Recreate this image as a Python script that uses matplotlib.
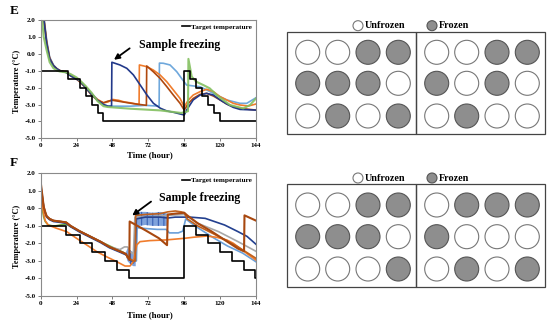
import matplotlib
matplotlib.use("Agg")
import matplotlib.pyplot as plt
from matplotlib.patches import Circle, Rectangle

plt.rcParams['font.family'] = ['Liberation Serif', 'DejaVu Serif']
plt.rcParams['font.weight'] = 'bold'
plt.rcParams['hatch.linewidth'] = 0.7

W, H = 550, 322

# ---------------- panel E data (hour, degC) ----------------
e_target_t = [0, 18, 26, 30, 34, 38, 42, 96, 100, 104, 108, 112, 116, 120, 144]
e_target_v = [-1, -1.5, -2, -2.5, -3, -3.5, -4, -1, -1.5, -2, -2.5, -3, -3.5, -4, -4]

e_lblue_t = [0, 1, 2, 4, 6, 8.5, 11, 13, 17, 20, 24, 26, 30, 34, 38, 42, 45, 50, 60, 70, 79.2,
             79.4, 82, 86.5, 91, 95, 97.6, 102, 106.6, 111, 115.5, 120, 124.4, 128.8, 133.3, 137.8, 144]
e_lblue_v = [4.0, 3.2, 2.3, 0.8, -0.2, -0.65, -0.9, -1.0, -1.1, -1.3, -1.5, -1.6, -1.95, -2.35, -2.7, -3.0, -3.1, -3.1, -3.1, -3.05, -3.1,
             -0.55, -0.56, -0.66, -1.06, -1.55, -1.85, -1.9, -1.95, -2.14, -2.34, -2.54, -2.73, -2.83, -2.93, -2.93, -2.6]

e_orange_t = [0, 1, 2, 4, 6, 8.5, 11, 13, 17, 20, 24, 26, 30, 34, 38, 42, 45, 48, 52, 56, 60, 65.8,
              66, 70.9, 75.3, 79.8, 84.3, 88.7, 93.2, 96, 98.8, 102, 106.6, 111, 115.5, 120, 124.4, 128.8, 133.3, 138.9, 144]
e_orange_v = [4.0, 3.0, 2.1, 0.6, -0.3, -0.7, -0.9, -1.0, -1.05, -1.25, -1.45, -1.6, -1.95, -2.4, -2.7, -2.9, -2.85, -2.7, -2.75, -2.85, -2.9, -3.0,
              -0.66, -0.76, -0.96, -1.25, -1.65, -2.14, -2.64, -3.13, -2.73, -2.44, -2.24, -2.1, -2.24, -2.54, -2.73, -2.93, -3.03, -3.09, -2.97]

e_brown_t = [0, 1, 2, 4, 6, 8.5, 11, 13, 17, 20, 24, 26, 30, 34, 38, 42, 45, 48, 55, 62, 70.7,
             70.9, 75.3, 79.8, 84.3, 88.7, 93.2, 96, 98.8, 102, 106.6, 111, 115.5, 120, 124.4, 128.8, 133.3, 144]
e_brown_v = [4.0, 3.1, 2.2, 0.7, -0.25, -0.7, -0.9, -1.0, -1.1, -1.3, -1.5, -1.65, -2.0, -2.45, -2.75, -2.9, -2.8, -2.75, -2.85, -2.95, -3.05,
             -0.72, -1.06, -1.45, -1.94, -2.44, -2.93, -3.33, -2.93, -2.64, -2.4, -2.34, -2.5, -2.73, -2.97, -3.13, -3.23, -3.33]

e_navy_t = [0, 1, 2, 4, 6, 8.5, 11, 13, 17, 20, 24, 26, 30, 34, 38, 42, 45, 47.4,
            47.6, 53, 57.6, 62, 66.5, 71, 75.4, 80, 84.3, 88.8, 95, 96, 97.6, 102, 106.6, 111, 115.5, 120, 124.4, 128.8, 133.3, 144]
e_navy_v = [4.0, 3.0, 2.1, 0.6, -0.3, -0.7, -0.9, -1.0, -1.1, -1.3, -1.5, -1.6, -2.0, -2.4, -2.75, -3.0, -3.1, -3.1,
            -0.5, -0.66, -0.86, -1.25, -1.84, -2.43, -2.93, -3.22, -3.38, -3.46, -3.6, -3.62, -3.33, -2.73, -2.44, -2.34, -2.44, -2.73, -2.97, -3.17, -3.29, -3.33]

e_green_t = [0, 1, 2, 4, 6, 8.5, 11, 13, 17, 20, 24, 26, 30, 34, 38, 42, 45, 60, 80, 94, 98.5,
             98.8, 101, 104, 108.8, 113, 117.7, 122, 126.6, 131, 135.5, 140, 144]
e_green_v = [3.0, 2.0, 1.0, 0.2, -0.5, -0.85, -1.0, -1.05, -1.1, -1.2, -1.4, -1.55, -1.9, -2.3, -2.8, -3.1, -3.15, -3.25, -3.35, -3.5, -3.4,
             -0.3, -1.35, -1.65, -1.85, -2.04, -2.44, -2.73, -3.03, -3.13, -3.23, -3.03, -2.64]

# ---------------- panel F data ----------------
f_target_t = [0, 17, 26, 34, 43, 51, 59, 96, 104, 112, 120, 128, 136, 143.5, 144]
f_target_v = [-1, -1.5, -2, -2.5, -3, -3.5, -4, -1, -1.5, -2, -2.5, -3, -3.5, -4, -4]

f_green_t = [0, 1, 2, 3, 5, 8, 10, 13, 17, 26, 40, 55]
f_green_v = [0.8, 0.0, -0.5, -0.75, -0.95, -1.0, -1.0, -0.95, -0.9, -1.3, -1.9, -2.5]

f_gray_t = [0, 1, 2, 3, 4, 6, 8.5, 13, 17, 20, 26, 33, 40, 46, 53, 56, 58, 60, 62, 63, 70, 85, 96, 98, 105, 119, 132, 144]
f_gray_v = [1.3, 0.7, 0.1, -0.2, -0.45, -0.6, -0.7, -0.75, -0.8, -1.0, -1.3, -1.6, -1.9, -2.2, -2.35, -2.2, -2.2, -2.5, -2.6, -0.5, -0.5, -0.4, -0.35, -0.45, -0.85, -1.33, -1.9, -2.45]

f_lblue_t = [0, 1, 2, 3, 4, 6, 8.5, 13, 17, 20, 26, 33, 40, 46, 53, 57, 58, 60, 62, 64, 64.5, 70, 78, 84, 86, 92, 95, 97, 100, 105, 115, 125, 135, 144]
f_lblue_v = [1.4, 0.8, 0.1, -0.2, -0.45, -0.6, -0.7, -0.75, -0.8, -1.0, -1.3, -1.6, -1.9, -2.2, -2.45, -2.6, -2.7, -2.9, -3.0, -3.0, -1.1, -1.15, -1.2, -1.2, -1.4, -1.4, -1.3, -0.6, -0.8, -1.1, -1.65, -2.15, -2.55, -3.05]

# oscillating blue probe: upper and lower edge of its band
f_band_t = [57, 58, 60, 62, 63.4, 63.6, 66, 70, 75, 80, 85]
f_band_hi = [-2.5, -2.3, -2.4, -2.5, -2.6, -0.3, -0.2, -0.2, -0.25, -0.2, -0.3]
f_band_lo = [-2.7, -3.0, -3.2, -3.3, -3.3, -1.0, -1.0, -0.95, -1.0, -1.0, -1.0]

f_navy_t = [0, 1, 2, 3, 4, 6, 8.5, 13, 17, 20, 26, 33, 40, 46, 53, 57, 60, 62, 63, 64, 70, 80, 85, 90, 96, 100, 110, 123, 132, 138, 144]
f_navy_v = [1.2, 0.6, 0.0, -0.3, -0.5, -0.65, -0.75, -0.8, -0.85, -1.05, -1.35, -1.65, -1.95, -2.25, -2.5, -2.65, -2.9, -3.1, -2.8, -0.6, -0.5, -0.5, -0.55, -0.5, -0.5, -0.5, -0.57, -0.95, -1.33, -1.6, -2.05]

f_orange_t = [0, 1, 2, 3, 5, 8, 10.7, 17.4, 24, 30.8, 37.5, 44, 50.8, 56.4, 59.7, 62, 64.2, 66.4, 73, 84, 96, 102, 111, 117.7, 124.4, 128.8, 133.3, 137.8, 144]
f_orange_v = [1.0, 0.3, -0.3, -0.7, -0.95, -1.05, -1.14, -1.33, -1.71, -2.09, -2.47, -2.76, -3.04, -3.29, -3.29, -3.04, -2.09, -1.9, -1.84, -1.8, -1.71, -1.65, -1.58, -1.65, -1.8, -1.99, -2.28, -2.57, -2.95]

f_brown2_t = [0, 1, 2, 3, 4, 6, 8.5, 13, 17, 20, 26, 33, 40, 46, 53, 57, 58, 60, 62, 63.3, 63.5, 70, 80, 85, 90, 94, 96, 98, 105, 119, 132, 144]
f_brown2_v = [1.3, 0.7, 0.1, -0.25, -0.45, -0.6, -0.7, -0.75, -0.8, -1.0, -1.3, -1.6, -1.9, -2.2, -2.45, -2.6, -2.8, -2.9, -3.0, -3.0, -0.4, -0.35, -0.3, -0.2, -0.15, -0.2, -0.25, -0.6, -1.0, -1.6, -2.2, -2.85]

f_brown_t = [0, 1, 2, 3, 4, 6, 8.5, 13, 17, 20, 26, 33, 40, 46, 53, 57, 59.3, 59.5, 70, 79, 84.5, 85, 90, 96, 98, 105, 114, 123, 132, 136, 136.3, 144]
f_brown_v = [1.5, 0.8, 0.1, -0.2, -0.45, -0.6, -0.7, -0.75, -0.8, -1.0, -1.3, -1.6, -1.9, -2.2, -2.45, -2.6, -2.95, -0.75, -1.25, -1.7, -2.1, -0.35, -0.3, -0.25, -0.4, -0.85, -1.3, -1.8, -2.3, -2.45, -0.4, -0.7]

# ---------------- plate diagrams (1 = frozen) ----------------
e_plate_left = [[0, 0, 1, 1], [1, 1, 1, 0], [0, 1, 0, 1]]
e_plate_right = [[0, 0, 1, 1], [1, 0, 1, 0], [0, 1, 0, 0]]
f_plate_left = [[0, 0, 1, 1], [1, 1, 1, 0], [0, 0, 0, 1]]
f_plate_right = [[0, 1, 1, 1], [1, 0, 0, 0], [0, 1, 0, 1]]


def style_axes(ax):
    ax.set_xlim(0, 144)
    ax.set_ylim(-5, 2)
    ax.set_xticks(range(0, 145, 24))
    ax.set_yticks([-5, -4, -3, -2, -1, 0, 1, 2])
    ax.set_yticklabels(['%.1f' % v for v in [-5, -4, -3, -2, -1, 0, 1, 2]])
    ax.tick_params(labelsize=5, length=2, width=0.6, pad=1.5, color='#666666')
    for s in ax.spines.values():
        s.set_color('#8a8a8a')
        s.set_linewidth(0.8)
    ax.legend(loc='upper right', frameon=False, handlelength=1.0, handletextpad=0.2,
              borderaxespad=0.15, prop={'size': 5.2, 'weight': 'bold'})


fig = plt.figure(figsize=(W / 100, H / 100), dpi=100)

# panel E
axE = fig.add_axes([40.7 / W, 1 - 138.3 / H, 215.3 / W, 118.3 / H])
lw = 1.2
axE.plot(e_lblue_t, e_lblue_v, color='#6fa8dc', lw=lw)
axE.plot(e_orange_t, e_orange_v, color='#f07c2c', lw=lw)
axE.plot(e_brown_t, e_brown_v, color='#b0480e', lw=lw)
axE.plot(e_navy_t, e_navy_v, color='#22398a', lw=lw)
axE.plot(e_green_t, e_green_v, color='#84c060', lw=1.5, alpha=0.9)
axE.plot(e_target_t, e_target_v, color='black', lw=1.2, drawstyle='steps-post', label='Target temperature')
style_axes(axE)
axE.annotate('', xy=(47.5, -0.45), xytext=(61, 0.42),
             arrowprops=dict(arrowstyle='-|>', color='black', lw=1.3, mutation_scale=8))
axE.text(66, 0.5, 'Sample freezing', fontsize=8.6, va='center', ha='left')

# panel F
axF = fig.add_axes([40.7 / W, 1 - 296 / H, 215.3 / W, 122.7 / H])
axF.plot(f_green_t, f_green_v, color='#70ad47', lw=lw)
axF.plot(f_gray_t, f_gray_v, color='#a8a8a8', lw=lw)
axF.plot(f_lblue_t, f_lblue_v, color='#6a9fd8', lw=lw)
axF.plot(f_navy_t, f_navy_v, color='#23408f', lw=lw)
axF.fill_between(f_band_t, f_band_lo, f_band_hi, facecolor='#7fa3dc', edgecolor='#2f58b0',
                 hatch='|||', lw=0)
axF.plot(f_orange_t, f_orange_v, color='#f07c2c', lw=lw)
axF.plot(f_brown2_t, f_brown2_v, color='#c0601c', lw=lw)
axF.plot(f_brown_t, f_brown_v, color='#a8480f', lw=1.5)
axF.plot(f_target_t, f_target_v, color='black', lw=1.2, drawstyle='steps-post', label='Target temperature')
style_axes(axF)
axF.annotate('', xy=(59.7, -0.5), xytext=(75.3, 0.48),
             arrowprops=dict(arrowstyle='-|>', color='black', lw=1.3, mutation_scale=8))
axF.text(79.3, 0.57, 'Sample freezing', fontsize=8.6, va='center', ha='left')

# labels in pixel positions
fig.text(13.8 / W, 1 - 11 / H, 'E', fontsize=9.5, ha='center', va='center')
fig.text(13.8 / W, 1 - 163 / H, 'F', fontsize=9.5, ha='center', va='center')
fig.text(16.7 / W, 1 - 81 / H, 'Temperature (°C)', fontsize=6, rotation=90, ha='center', va='center')
fig.text(16.7 / W, 1 - 236 / H, 'Temperature (°C)', fontsize=6, rotation=90, ha='center', va='center')
fig.text(149.7 / W, 1 - 155 / H, 'Time (hour)', fontsize=6.4, ha='center', va='center')
fig.text(149.7 / W, 1 - 315 / H, 'Time (hour)', fontsize=6.4, ha='center', va='center')

# plate diagrams drawn in pixel space
axD = fig.add_axes([0, 0, 1, 1], zorder=-1)
axD.set_xlim(0, W)
axD.set_ylim(H, 0)
axD.axis('off')

col_x_left = [307.7, 337.7, 368, 398.3]
col_x_right = [436.7, 466.7, 497, 527.3]
frozen_fc = '#8e8e8e'


def draw_circle(x, y, r, frozen):
    if frozen:
        axD.add_patch(Circle((x, y), r, facecolor=frozen_fc, edgecolor='#555555', lw=0.8))
    else:
        axD.add_patch(Circle((x, y), r, facecolor='white', edgecolor='#777777', lw=0.8))


def draw_plates(top, bottom, rows_y, left, right, legend_y):
    axD.add_patch(Rectangle((287.3, top), 416 - 287.3, bottom - top, fill=False, edgecolor='#444444', lw=0.9))
    axD.add_patch(Rectangle((416, top), 545 - 416, bottom - top, fill=False, edgecolor='#444444', lw=0.9))
    for grid, xs in ((left, col_x_left), (right, col_x_right)):
        for row, y in zip(grid, rows_y):
            for state, x in zip(row, xs):
                draw_circle(x, y, 12, state)
    draw_circle(358, legend_y, 5, 0)
    axD.text(365, legend_y, 'Unfrozen', fontsize=7.3, ha='left', va='center')
    draw_circle(432, legend_y, 5, 1)
    axD.text(439, legend_y, 'Frozen', fontsize=7.3, ha='left', va='center')


draw_plates(32.3, 134.3, [52.3, 83.3, 116], e_plate_left, e_plate_right, 25.7)
draw_plates(184.3, 286.7, [205, 236.7, 269], f_plate_left, f_plate_right, 178)

fig.savefig('out.png', dpi=100)
